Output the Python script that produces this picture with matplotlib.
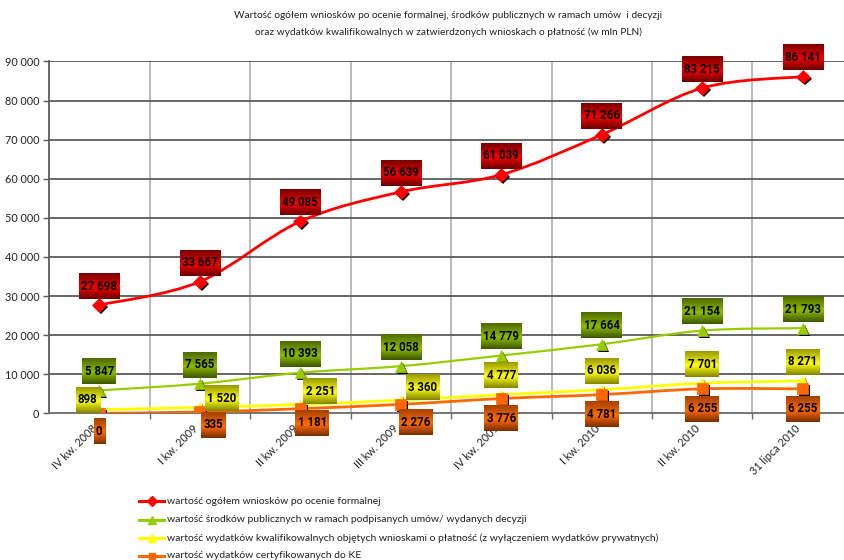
import numpy as np
import matplotlib
matplotlib.use("Agg")
import matplotlib.pyplot as plt
from matplotlib.path import Path
from matplotlib.lines import Line2D
from matplotlib.patches import PathPatch
import matplotlib.patheffects as pe
from matplotlib.colors import to_rgb

categories = ["IV kw. 2008", "I kw. 2009", "II kw. 2009", "III kw. 2009",
              "IV kw. 2009", "I kw. 2010", "II kw. 2010", "31 lipca 2010"]
total_applications = [27698, 33667, 49085, 56639, 61039, 71266, 83215, 86141]
public_funds = [5847, 7565, 10393, 12058, 14779, 17664, 21154, 21793]
eligible_expenses = [898, 1520, 2251, 3360, 4777, 6036, 7701, 8271]
certified_expenses = [0, 335, 1181, 2276, 3776, 4781, 6255, 6255]

series_names = [
    "wartość ogółem wniosków po ocenie formalnej",
    "wartość środków publicznych w ramach podpisanych umów/ wydanych decyzji",
    "wartość wydatków kwalifikowalnych objętych wnioskami o płatność (z wyłączeniem wydatków prywatnych)",
    "wartość wydatków certyfikowanych do KE",
]
title_lines = ["Wartość ogółem wniosków po ocenie formalnej, środków publicznych w ramach umów  i decyzji",
               "oraz wydatków kwalifikowalnych w zatwierdzonych wnioskach o płatność (w mln PLN)"]
yticks = [0, 10000, 20000, 30000, 40000, 50000, 60000, 70000, 80000, 90000]

NARROW = ["Lato", "DejaVu Sans"]
LABELFONT = ["Roboto", "DejaVu Sans"]

W, H = 844, 560
fig = plt.figure(figsize=(W / 100, H / 100), dpi=100)
ax = fig.add_axes([49 / W, (H - 413.3) / H, 804 / W, (413.3 - 61.5) / H])
ax.set_xlim(-0.5, 7.5)
ax.set_ylim(0, 90000)

# grid
for b in np.arange(0.5, 7.5, 1.0):
    ax.axvline(b, color="#b4b4b4", lw=1.3, zorder=1)
for yv in yticks[1:]:
    ax.axhline(yv, color="#5a5a5a", lw=1.3, zorder=1)

for s in ["top", "right"]:
    ax.spines[s].set_visible(False)
ax.spines["left"].set_color("#5a5a5a")
ax.spines["left"].set_linewidth(1.3)
ax.spines["bottom"].set_color("#6a6a6a")
ax.spines["bottom"].set_linewidth(1.3)

ax.set_yticks(yticks)
ax.set_yticklabels([f"{v:,}".replace(",", " ") for v in yticks],
                   fontsize=7.8, family=NARROW, color="#222222")
ax.tick_params(axis="y", length=4, width=1, color="#5a5a5a", pad=3)
x = np.arange(len(categories))
ax.set_xticks(x)
ax.set_xticklabels(categories, rotation=45, ha="right", va="top",
                   fontsize=7.8, family=NARROW, color="#222222")
ax.tick_params(axis="x", length=0, pad=7)
ax.set_xticks(np.arange(0.5, 7.5, 1.0), minor=True)
ax.tick_params(axis="x", which="minor", length=4, width=1, color="#6a6a6a")


def smooth_path(xs, ys):
    pts = np.column_stack([xs, ys]).astype(float)
    n = len(pts)
    verts = [pts[0]]
    codes = [Path.MOVETO]
    for i in range(n - 1):
        p0 = pts[i - 1] if i > 0 else pts[i]
        p1 = pts[i]
        p2 = pts[i + 1]
        p3 = pts[i + 2] if i + 2 < n else pts[i + 1]
        c1 = p1 + (p2 - p0) / 6.0
        c2 = p2 - (p3 - p1) / 6.0
        verts += [c1, c2, p2]
        codes += [Path.CURVE4] * 3
    return Path(verts, codes)


series = [total_applications, public_funds, eligible_expenses, certified_expenses]
line_colors = ["#ff0000", "#99cc00", "#ffff00", "#ff6600"]
markers = ["D", "^", "^", "s"]
msizes = [7, 8, 7, 8]
lws = [2.0, 1.6, 2.0, 2.0]
shadow = [pe.SimplePatchShadow(offset=(1.4, -1.4), shadow_rgbFace="black", alpha=1.0), pe.Normal()]

for k, vals in enumerate(series):
    z = 3 + k
    ax.add_patch(PathPatch(smooth_path(x, vals), fc="none", ec=line_colors[k],
                           lw=lws[k], zorder=z, capstyle="round"))
    ax.plot(x, vals, ls="none", marker=markers[k], ms=msizes[k], mfc=line_colors[k],
            mec=line_colors[k], mew=0.5, zorder=z + 0.5, path_effects=shadow)

# label offsets (pixels)
offsets = [
    [(0, 19)] * 8,
    [(0, 19)] * 8,
    [(-11.5, 10), (22, 9), (20, 13), (22, 13), (0, 19), (0, 19), (0, 19), (0, 19)],
    [(0, -18), (13.5, -13), (12, -14), (15, -18), (0, -20), (0, -20), (0, -20), (0, -20)],
]
box_grad = [
    ("#780000", "#f00000", "#6a0000"),
    ("#4d6a00", "#8cbc00", "#3e5800"),
    ("#9a9a00", "#ffff10", "#848400"),
    ("#a54200", "#ff6a00", "#7a2e00"),
]


def label_box(x0, y0, width, height, mutation_size):
    px = 0.2 * mutation_size
    py = 0.55 * mutation_size
    return Path([(x0 - px, y0 - py), (x0 + width + px, y0 - py),
                 (x0 + width + px, y0 + height + py), (x0 - px, y0 + height + py),
                 (x0 - px, y0 - py)], closed=True)


anns = []
zc = 20
for k, vals in enumerate(series):
    for i, v in enumerate(vals):
        dx, dy = offsets[k][i]
        a = ax.annotate(f"{v:,}".replace(",", " "), xy=(i, v), xytext=(dx, dy),
                        textcoords="offset pixels", ha="center", va="center",
                        fontsize=8.3, fontweight="bold", family=LABELFONT, color="black",
                        bbox=dict(boxstyle=label_box, fc="none", ec="none"),
                        zorder=zc, annotation_clip=False)
        anns.append((a, k, zc))
        zc += 1

fig.canvas.draw()
renderer = fig.canvas.get_renderer()
inv = ax.transData.inverted()
for a, k, z in anns:
    bb = a.get_bbox_patch().get_window_extent(renderer)
    (dx0, dy0), (dx1, dy1) = inv.transform([(bb.x0, bb.y0), (bb.x1, bb.y1)])
    top, mid, bot = [np.array(to_rgb(c)) for c in box_grad[k]]
    t = np.linspace(0, 1, 40)
    rows = []
    for tv in t:
        if tv < 0.55:
            f = tv / 0.55
            rows.append(top * (1 - f) + mid * f)
        else:
            f = (tv - 0.55) / 0.45
            rows.append(mid * (1 - f) + bot * f)
    img = np.array(rows)[:, None, :]
    ax.imshow(img, extent=(dx0, dx1, dy0, dy1), origin="upper", aspect="auto",
              interpolation="bilinear", zorder=z - 0.5, clip_on=False)

ax.set_xlim(-0.5, 7.5)
ax.set_ylim(0, 90000)

# title
fig.text(448 / W, 1 - 16 / H, title_lines[0], ha="center", va="center",
         fontsize=7.3, family=NARROW, color="#222222")
fig.text(448 / W, 1 - 32 / H, title_lines[1], ha="center", va="center",
         fontsize=7.3, family=NARROW, color="#222222")

# legend
leg_y = [501, 520, 538, 556]
leg_ms = [5, 6, 6, 5]
for k in range(4):
    yy = 1 - leg_y[k] / H
    fig.add_artist(Line2D([139 / W, 164 / W], [yy, yy], color=line_colors[k], lw=2.2,
                          transform=fig.transFigure))
    fig.add_artist(Line2D([151.5 / W], [yy], marker=markers[k], ms=leg_ms[k],
                          color=line_colors[k], ls="none", transform=fig.transFigure))
    fig.text(167 / W, yy, series_names[k], ha="left", va="center", fontsize=7.5,
             family=NARROW, color="#222222")

fig.savefig("out.png", dpi=100)
